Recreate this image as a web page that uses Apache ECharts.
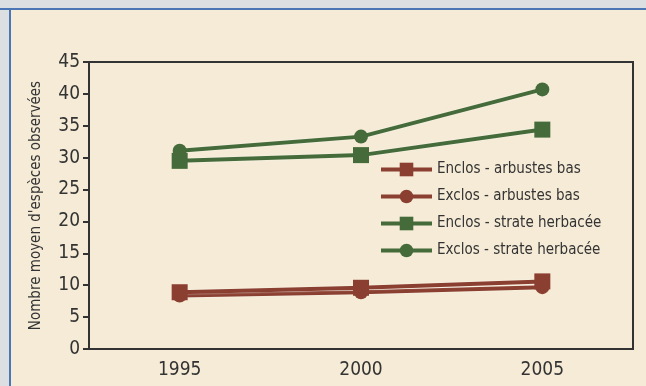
<!DOCTYPE html>
<html>
<head>
    <meta charset="utf-8"/>
    <script src="https://cdn.jsdelivr.net/npm/echarts@6/dist/echarts.min.js"></script>
    <style>
        html, body { margin: 0; overflow: hidden; background: #f5ebd6; }
        #bandeG { position: absolute; left: 0; top: 0; width: 9px; height: 386px; background: #dcdfe1;
                  border-right: 2px solid #4a76b6; }
        #bandeH { position: absolute; left: 0; top: 0; width: 646px; height: 8px; background: #dcdfe1;
                  border-bottom: 2px solid #4a76b6; }
        #main { position: absolute; left: 0; top: 0; width: 646px; height: 386px; }
    </style>
</head>
<body>
<div id="bandeG"></div>
<div id="bandeH"></div>
<div id="main"></div>
<script type="text/javascript">
    // données
    var annees = ['1995', '2000', '2005'];
    var enclosArbustes = [8.9, 9.6, 10.6];
    var exclosArbustes = [8.4, 8.9, 9.7];
    var enclosHerbacee = [29.5, 30.4, 34.4];
    var exclosHerbacee = [31.1, 33.3, 40.7];
    var yTicks = [0, 45, 5]; // min, max, pas

    var rouge = '#8a3f30';
    var vert = '#466b3b';
    var police = '"Liberation Sans Narrow", "DejaVu Sans Condensed", sans-serif';

    var myChart = echarts.init(document.getElementById('main'));

    function serie(nom, data, couleur, symbole, taille, z) {
        return {
            name: nom,
            type: 'line',
            data: data,
            symbol: symbole,
            symbolSize: taille,
            z: z,
            itemStyle: { color: couleur },
            lineStyle: {
                color: couleur, width: 4,
                shadowColor: 'rgba(255,255,255,0.7)', shadowBlur: 2
            }
        };
    }

    var option = {
        backgroundColor: 'transparent',
        animation: false,
        grid: {
            left: 89, right: 13, top: 62, bottom: 37,
            show: true, borderColor: '#333', borderWidth: 2
        },
        legend: {
            left: 374, top: 157, orient: 'vertical',
            itemWidth: 51, itemHeight: 17, itemGap: 12,
            lineStyle: { width: 4 },
            textStyle: { fontSize: 15, color: '#333', fontFamily: police },
            data: ['Enclos - arbustes bas', 'Exclos - arbustes bas',
                   'Enclos - strate herbacée', 'Exclos - strate herbacée']
        },
        xAxis: {
            type: 'category',
            data: annees,
            boundaryGap: true,
            axisLine: { lineStyle: { color: '#333', width: 2 } },
            axisTick: { length: 6, lineStyle: { color: '#333', width: 2 } },
            axisLabel: { fontSize: 19, color: '#333', margin: 12, fontFamily: police }
        },
        yAxis: {
            type: 'value',
            min: yTicks[0], max: yTicks[1], interval: yTicks[2],
            name: "Nombre moyen d'espèces observées",
            nameLocation: 'middle',
            nameGap: 45,
            nameTextStyle: { fontSize: 15, color: '#333', fontFamily: police },
            splitLine: { show: false },
            axisLine: { show: true, lineStyle: { color: '#333', width: 2 } },
            axisTick: { show: true, length: 6, lineStyle: { color: '#333', width: 2 } },
            axisLabel: { fontSize: 19, color: '#333', margin: 9, fontFamily: police }
        },
        series: [
            serie('Enclos - arbustes bas', enclosArbustes, rouge, 'rect', 16, 4),
            serie('Exclos - arbustes bas', exclosArbustes, rouge, 'circle', 14, 3),
            serie('Enclos - strate herbacée', enclosHerbacee, vert, 'rect', 16, 4),
            serie('Exclos - strate herbacée', exclosHerbacee, vert, 'circle', 14, 3)
        ]
    };

    myChart.setOption(option);
</script>
</body>
</html>
